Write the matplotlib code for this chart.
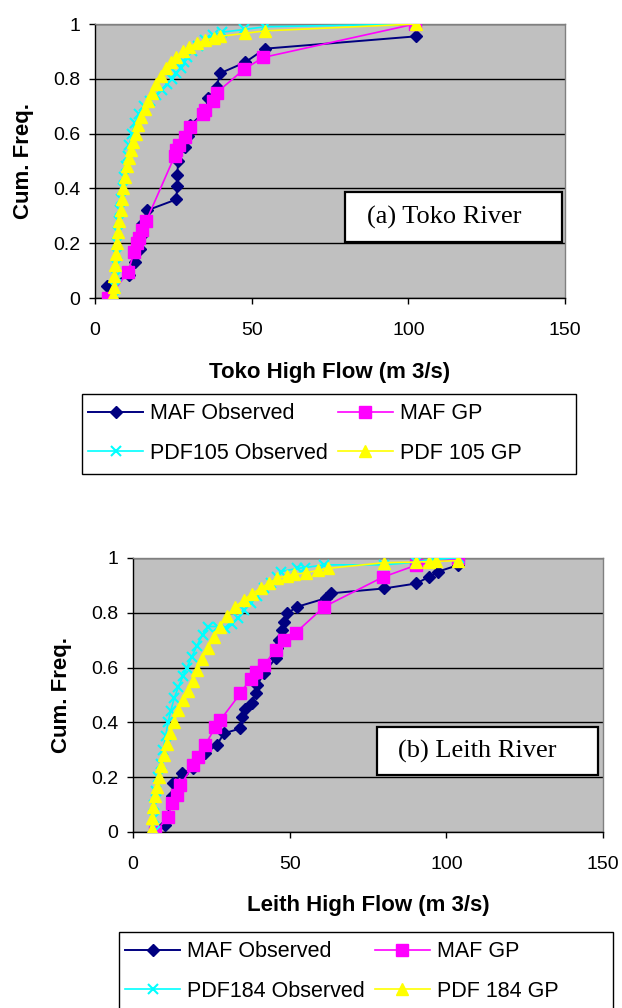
import matplotlib
matplotlib.use("Agg")
import matplotlib.pyplot as plt
from matplotlib.patches import Rectangle

plt.rcParams["font.family"] = ["Liberation Sans", "DejaVu Sans"]

# ---- Toko River (a) ----
toko_maf_obs_x = [3.7, 10.8, 12.8, 14.4, 14.9, 15.0, 16.7, 26.0, 26.2, 26.3, 26.5,
                  28.7, 29.8, 30.3, 35.1, 36.2, 38.8, 39.9, 47.9, 54.3, 102.5]
toko_maf_obs_y = [0.045, 0.085, 0.13, 0.18, 0.23, 0.27, 0.32, 0.36, 0.41, 0.45, 0.50,
                  0.55, 0.59, 0.63, 0.68, 0.73, 0.77, 0.82, 0.86, 0.91, 0.955]

toko_maf_gp_x = [4.3, 10.6, 12.5, 13.5, 14.1, 15.0, 16.3, 25.5, 25.9, 26.8, 28.7,
                 30.3, 34.5, 35.1, 37.5, 38.8, 47.6, 53.7, 102.1]
toko_maf_gp_y = [0.0, 0.096, 0.169, 0.20, 0.22, 0.25, 0.28, 0.52, 0.54, 0.56, 0.589,
                 0.623, 0.67, 0.686, 0.72, 0.749, 0.835, 0.878, 1.0]

toko_pdf_obs_x = [6.4, 6.5, 6.6, 6.7, 6.9, 7.1, 7.4, 7.7, 8.0, 8.4, 8.8, 9.3, 9.8,
                  10.4, 11.0, 11.8, 12.8, 14.0, 15.5, 17.5, 19.5, 21.5, 23.0, 24.5,
                  26.0, 27.5, 28.5, 29.5, 31.0, 33.0, 35.0, 37.8, 40.5, 47.6, 54.3,
                  102.5]
toko_pdf_obs_y = [0.005, 0.04, 0.08, 0.12, 0.16, 0.20, 0.24, 0.28, 0.32, 0.36, 0.40,
                  0.44, 0.48, 0.52, 0.56, 0.60, 0.64, 0.67, 0.70, 0.72, 0.74, 0.76,
                  0.78, 0.80, 0.82, 0.84, 0.86, 0.88, 0.90, 0.92, 0.94, 0.96, 0.97,
                  0.98, 0.99, 1.0]

toko_pdf_gp_x = [5.8, 6.0, 6.2, 6.4, 6.6, 7.0, 7.4, 7.8, 8.2, 8.6, 9.0, 9.6, 10.2,
                 10.8, 11.5, 12.2, 13.0, 13.8, 14.8, 15.8, 17.0, 18.2, 19.5, 21.0,
                 22.5, 24.2, 26.0, 28.0, 30.0, 32.5, 35.0, 38.0, 39.9, 47.9, 54.3,
                 102.5]
toko_pdf_gp_y = [0.01, 0.04, 0.08, 0.12, 0.16, 0.20, 0.24, 0.28, 0.32, 0.36, 0.40,
                 0.44, 0.48, 0.51, 0.54, 0.57, 0.60, 0.63, 0.66, 0.69, 0.72, 0.75,
                 0.78, 0.81, 0.84, 0.86, 0.88, 0.90, 0.915, 0.93, 0.94, 0.95, 0.955,
                 0.966, 0.975, 1.0]

# ---- Leith River (b) ----
leith_maf_obs_x = [10.3, 12.4, 12.9, 15.6, 19.3, 23.1, 26.8, 29.0, 34.3, 34.8, 35.9,
                   38.0, 39.1, 39.6, 41.8, 45.5, 46.0, 46.6, 47.7, 48.2, 49.2, 52.4,
                   61.5, 63.1, 80.2, 90.4, 94.6, 97.3, 103.7]
leith_maf_obs_y = [0.026, 0.13, 0.178, 0.214, 0.232, 0.287, 0.318, 0.36, 0.378, 0.42,
                   0.45, 0.47, 0.506, 0.536, 0.58, 0.634, 0.67, 0.70, 0.737, 0.768,
                   0.798, 0.822, 0.853, 0.871, 0.889, 0.907, 0.932, 0.95, 0.974]

leith_maf_gp_x = [7.1, 11.3, 12.4, 14.0, 15.1, 19.3, 20.9, 23.1, 26.3, 27.9, 34.3,
                  37.5, 39.1, 41.8, 45.5, 48.2, 51.9, 61.0, 79.7, 90.4, 103.7]
leith_maf_gp_y = [0.0, 0.056, 0.105, 0.135, 0.17, 0.245, 0.275, 0.318, 0.384, 0.409,
                  0.506, 0.56, 0.585, 0.61, 0.664, 0.70, 0.727, 0.822, 0.93, 0.974,
                  0.999]

leith_pdf_obs_x = [7.1, 6.6, 6.6, 7.2, 8.0, 8.8, 9.6, 10.4, 11.2, 12.0, 13.2, 14.5,
                   16.0, 17.2, 18.8, 20.4, 22.2, 24.0, 27.0, 29.5, 31.5, 33.5, 35.5,
                   37.5, 39.5, 41.8, 44.0, 46.0, 47.1, 52.4, 55.0, 61.0, 80.0, 90.4,
                   95.0, 104.0]
leith_pdf_obs_y = [0.005, 0.05, 0.10, 0.15, 0.20, 0.25, 0.30, 0.35, 0.40, 0.44, 0.49,
                   0.53, 0.57, 0.60, 0.64, 0.68, 0.72, 0.75, 0.75, 0.745, 0.76, 0.78,
                   0.81, 0.835, 0.86, 0.889, 0.91, 0.93, 0.95, 0.962, 0.965, 0.975,
                   0.975, 0.985, 0.995, 1.0]

leith_pdf_gp_x = [6.0, 6.0, 6.5, 7.0, 7.6, 8.3, 9.0, 9.8, 10.8, 11.9, 13.0, 14.5, 16.0,
                  17.5, 19.0, 20.5, 22.0, 23.8, 25.7, 27.8, 30.0, 32.5, 35.3, 38.0,
                  40.7, 43.5, 46.1, 49.0, 51.4, 55.1, 59.0, 62.1, 80.2, 90.4, 94.6,
                  96.7, 103.7]
leith_pdf_gp_y = [0.01, 0.05, 0.09, 0.13, 0.165, 0.20, 0.24, 0.28, 0.32, 0.36, 0.40,
                  0.445, 0.48, 0.515, 0.55, 0.59, 0.63, 0.67, 0.71, 0.75, 0.79, 0.82,
                  0.847, 0.87, 0.889, 0.91, 0.926, 0.935, 0.94, 0.946, 0.955, 0.962,
                  0.983, 0.985, 0.987, 0.988, 0.99]

x_ticks = [0, 50, 100, 150]
y_ticks = [0, 0.2, 0.4, 0.6, 0.8, 1.0]
y_tick_labels = ["0", "0.2", "0.4", "0.6", "0.8", "1"]

W, H = 622, 1008


def draw_panel(ax, series, xlabel, tag):
    ax.set_facecolor("#C0C0C0")
    (mo_x, mo_y), (mg_x, mg_y), (po_x, po_y), (pg_x, pg_y) = series
    h1, = ax.plot(mo_x, mo_y, color="#000080", marker="D", ms=6, lw=1.4, zorder=3)
    h2, = ax.plot(mg_x, mg_y, color="#FF00FF", marker="s", ms=8, lw=1.2, zorder=4)
    h3, = ax.plot(po_x, po_y, color="#00FFFF", marker="x", ms=7, mew=1.5, lw=1.2, zorder=5)
    h4, = ax.plot(pg_x, pg_y, color="#FFFF00", marker="^", ms=8.5, lw=1.2, zorder=6)

    ax.set_xlim(0, 150)
    ax.set_ylim(0, 1)
    ax.set_xticks(x_ticks)
    ax.set_yticks(y_ticks)
    ax.set_yticklabels(y_tick_labels)
    ax.tick_params(axis="both", labelsize=14, direction="out", length=4.5, width=1,
                   color="black")
    ax.tick_params(axis="x", pad=13)
    ax.tick_params(axis="y", pad=6)
    ax.grid(axis="y", color="black", lw=1)
    ax.set_axisbelow(True)
    for side in ("left", "bottom"):
        ax.spines[side].set_color("black")
        ax.spines[side].set_linewidth(1)
    for side in ("top", "right"):
        ax.spines[side].set_color("#808080")
        ax.spines[side].set_linewidth(1)

    ax.set_xlabel(xlabel, fontsize=16, fontweight="bold")
    ax.xaxis.set_label_coords(0.5, -74 / 274)
    ax.xaxis.label.set_va("center")
    ax.set_ylabel("Cum. Freq.", fontsize=16, fontweight="bold")
    ax.yaxis.set_label_coords(-72 / 470, 0.5)
    ax.yaxis.label.set_va("center")

    box, text_x = tag[1], tag[2]
    ax.add_patch(Rectangle((box[0], box[1]), box[2], box[3], transform=ax.transAxes,
                           facecolor="white", edgecolor="black", lw=1.6, zorder=10))
    ax.text(text_x, box[1] + box[3] / 2, tag[0], transform=ax.transAxes,
            fontsize=19, family=["Liberation Serif", "DejaVu Serif"],
            ha="center", va="center", zorder=11)
    return [h1, h2, h3, h4]


fig = plt.figure(figsize=(W / 100, H / 100), dpi=100)
fig.patch.set_facecolor("white")

ax1 = fig.add_axes([95 / W, 1 - 298 / H, 470 / W, 274 / H])
handles1 = draw_panel(
    ax1,
    [(toko_maf_obs_x, toko_maf_obs_y), (toko_maf_gp_x, toko_maf_gp_y),
     (toko_pdf_obs_x, toko_pdf_obs_y), (toko_pdf_gp_x, toko_pdf_gp_y)],
    "Toko High Flow (m 3/s)",
    ("(a) Toko River", (0.532, 0.204, 0.462, 0.182), 0.743),
)

ax2 = fig.add_axes([133 / W, 1 - 832 / H, 470 / W, 274 / H])
handles2 = draw_panel(
    ax2,
    [(leith_maf_obs_x, leith_maf_obs_y), (leith_maf_gp_x, leith_maf_gp_y),
     (leith_pdf_obs_x, leith_pdf_obs_y), (leith_pdf_gp_x, leith_pdf_gp_y)],
    "Leith High Flow (m 3/s)",
    ("(b) Leith River", (0.519, 0.208, 0.470, 0.175), 0.733),
)

labels1 = ["MAF Observed", "MAF GP", "PDF105 Observed", "PDF 105 GP"]
labels2 = ["MAF Observed", "MAF GP", "PDF184 Observed", "PDF 184 GP"]

# legend frames drawn separately (Excel leaves empty room on the right)
legend_boxes = [(82, 394, 494, 80), (119, 932, 494, 80)]

for handles, labels, (bx, by, bw, bh) in zip([handles1, handles2], [labels1, labels2],
                                              legend_boxes):
    fig.add_artist(Rectangle((bx / W, 1 - (by + bh) / H), bw / W, bh / H,
                             transform=fig.transFigure, facecolor="white",
                             edgecolor="black", lw=1, zorder=1))
    order = [0, 2, 1, 3]
    leg = fig.legend([handles[i] for i in order], [labels[i] for i in order],
                     ncol=2, loc="upper left", bbox_to_anchor=(bx / W, 1 - (by + 3) / H),
                     borderaxespad=0, fontsize=15.5, numpoints=1,
                     handlelength=2.55, handletextpad=0.33, columnspacing=0.45,
                     labelspacing=0.85, borderpad=0.3, frameon=False)
    leg.set_zorder(2)

fig.savefig("out.png", dpi=100)
